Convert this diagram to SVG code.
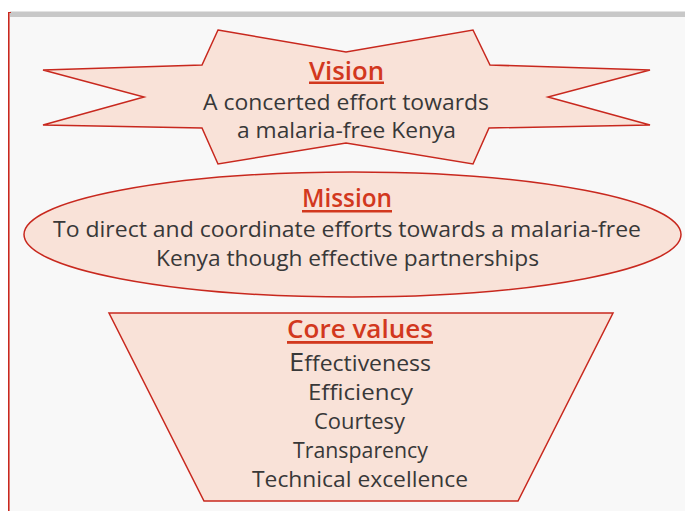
<svg xmlns="http://www.w3.org/2000/svg" width="685" height="511" viewBox="0 0 685 511">
<style>
.shape{fill:#f9e2d8;stroke:#c8281e;stroke-width:1.5}
.head{font-family:"Open Sans","Liberation Sans",sans-serif;font-size:25px;font-weight:600;fill:#d2381e;text-anchor:middle}
.body{font-family:"Open Sans","Liberation Sans",sans-serif;font-size:21px;fill:#383838;text-anchor:middle}
.ul{fill:#d2381e}
</style>
<rect x="0" y="0" width="685" height="511" fill="#ffffff"/>
<rect x="10" y="17" width="675" height="494" fill="#f8f8f8"/>
<rect x="10" y="11.5" width="675" height="5.5" fill="#c8c8c8"/>
<rect x="8" y="12" width="1.6" height="499" fill="#c8281e"/>
<rect x="8" y="12" width="3" height="1" fill="#c8281e"/>
<g id="vision">
<polygon class="shape" points="218,30 346,52 473,30 490,65 650,70 548,97 650,125 489,128 473,164 346,143 218,164 202,128 43,125 144,97 43,70 202,65"/>
<text class="head" x="346.5" y="80" textLength="75" lengthAdjust="spacingAndGlyphs">Vision</text>
<rect class="ul" x="309" y="81.5" width="75" height="2.5"/>
<text class="body" x="346" y="110" textLength="286" lengthAdjust="spacingAndGlyphs">A concerted effort towards</text>
<text class="body" x="346.5" y="138" textLength="219" lengthAdjust="spacingAndGlyphs">a malaria-free Kenya</text>
</g>
<g id="mission">
<ellipse class="shape" cx="352.5" cy="234.5" rx="328.5" ry="62.5"/>
<text class="head" x="347" y="207" textLength="90" lengthAdjust="spacingAndGlyphs">Mission</text>
<rect class="ul" x="302" y="210" width="90" height="2.5"/>
<text class="body" x="347" y="237" textLength="588" lengthAdjust="spacingAndGlyphs">To direct and coordinate efforts towards a malaria-free</text>
<text class="body" x="347.5" y="266" textLength="383" lengthAdjust="spacingAndGlyphs">Kenya though effective partnerships</text>
</g>
<g id="core-values">
<polygon class="shape" points="109,313 613,313 518,501 204,501"/>
<text class="head" x="360" y="338" textLength="146" lengthAdjust="spacingAndGlyphs">Core values</text>
<rect class="ul" x="287" y="341" width="146" height="2.8"/>
<text class="body" x="360" y="371" textLength="142" lengthAdjust="spacingAndGlyphs"><tspan font-size="25">E</tspan>ffectiveness</text>
<text class="body" x="360.5" y="400" textLength="105" lengthAdjust="spacingAndGlyphs">Efficiency</text>
<text class="body" x="359.5" y="429" textLength="91" lengthAdjust="spacingAndGlyphs">Courtesy</text>
<text class="body" x="360.5" y="458" textLength="135" lengthAdjust="spacingAndGlyphs">Transparency</text>
<text class="body" x="360" y="487" textLength="216" lengthAdjust="spacingAndGlyphs">Technical excellence</text>
</g>
<g id="connectors"></g>
</svg>
